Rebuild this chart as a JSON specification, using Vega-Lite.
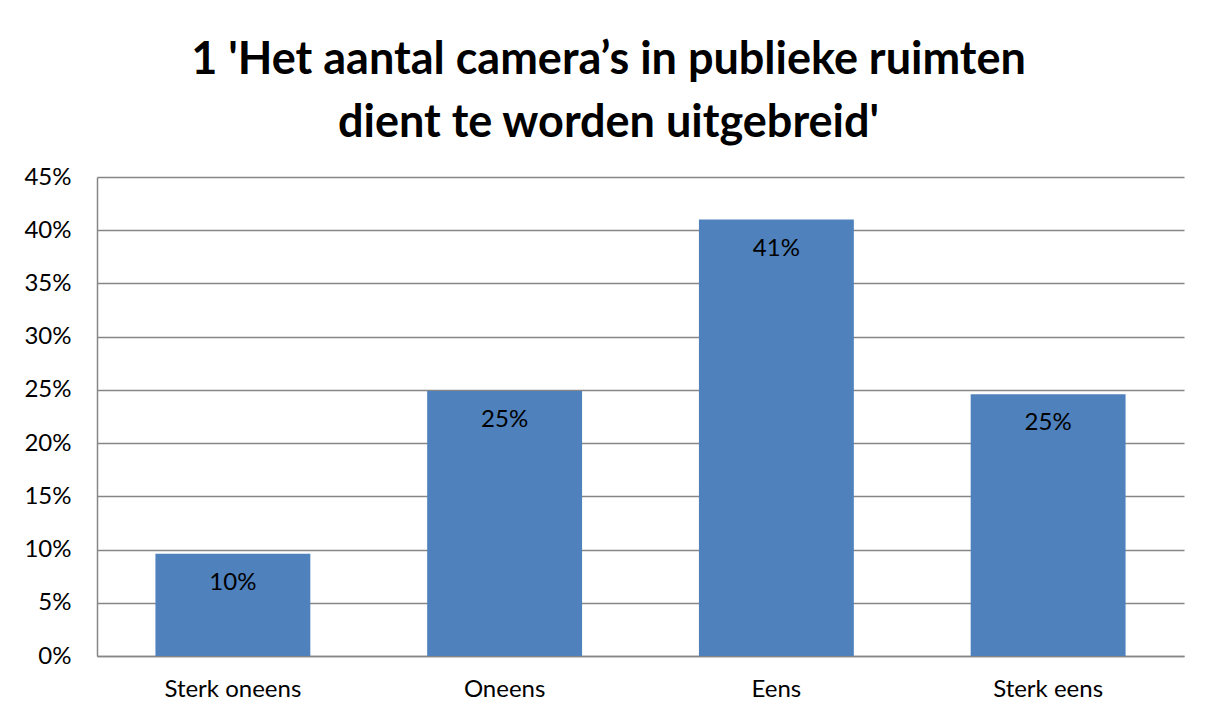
{
  "$schema": "https://vega.github.io/schema/vega-lite/v6.json",
  "autosize": {"type": "none"},
  "width": 1087,
  "height": 479,
  "padding": {"left": 97, "top": 177, "right": 25, "bottom": 60},
  "background": "white",
  "title": {
    "text": ["1 'Het aantal camera’s in publieke ruimten", "dient te worden uitgebreid'"],
    "font": "Lato",
    "fontWeight": "bold",
    "fontSize": 45,
    "color": "#000000",
    "lineHeight": 63,
    "anchor": "middle",
    "dx": -32,
    "offset": 19
  },
  "data": {
    "values": [
      {"categorie": "Sterk oneens", "aandeel": 0.096, "label": "10%"},
      {"categorie": "Oneens", "aandeel": 0.249, "label": "25%"},
      {"categorie": "Eens", "aandeel": 0.41, "label": "41%"},
      {"categorie": "Sterk eens", "aandeel": 0.246, "label": "25%"}
    ]
  },
  "encoding": {
    "x": {
      "field": "categorie",
      "type": "nominal",
      "sort": null,
      "scale": {"paddingInner": 0.43, "paddingOuter": 0.215},
      "axis": {
        "title": null,
        "labelAngle": 0,
        "labelFont": "Lato",
        "labelFontSize": 24,
        "labelColor": "#000000",
        "labelPadding": 21,
        "ticks": false,
        "domainColor": "#868686",
        "domainWidth": 1.5
      }
    },
    "y": {
      "field": "aandeel",
      "type": "quantitative",
      "scale": {"domain": [0, 0.45], "nice": false},
      "axis": {
        "title": null,
        "values": [0, 0.05, 0.1, 0.15, 0.2, 0.25, 0.3, 0.35, 0.4, 0.45],
        "format": ".0%",
        "labelFont": "Lato",
        "labelFontSize": 24,
        "labelColor": "#000000",
        "labelPadding": 26,
        "ticks": false,
        "grid": true,
        "gridColor": "#868686",
        "gridWidth": 1.5,
        "domainColor": "#868686",
        "domainWidth": 1.5
      }
    }
  },
  "layer": [
    {"mark": {"type": "bar", "color": "#4F81BD"}},
    {
      "mark": {"type": "text", "baseline": "top", "dy": 17, "font": "Lato", "fontSize": 24, "color": "#000000"},
      "encoding": {"text": {"field": "label"}}
    }
  ],
  "config": {"view": {"stroke": null}}
}
